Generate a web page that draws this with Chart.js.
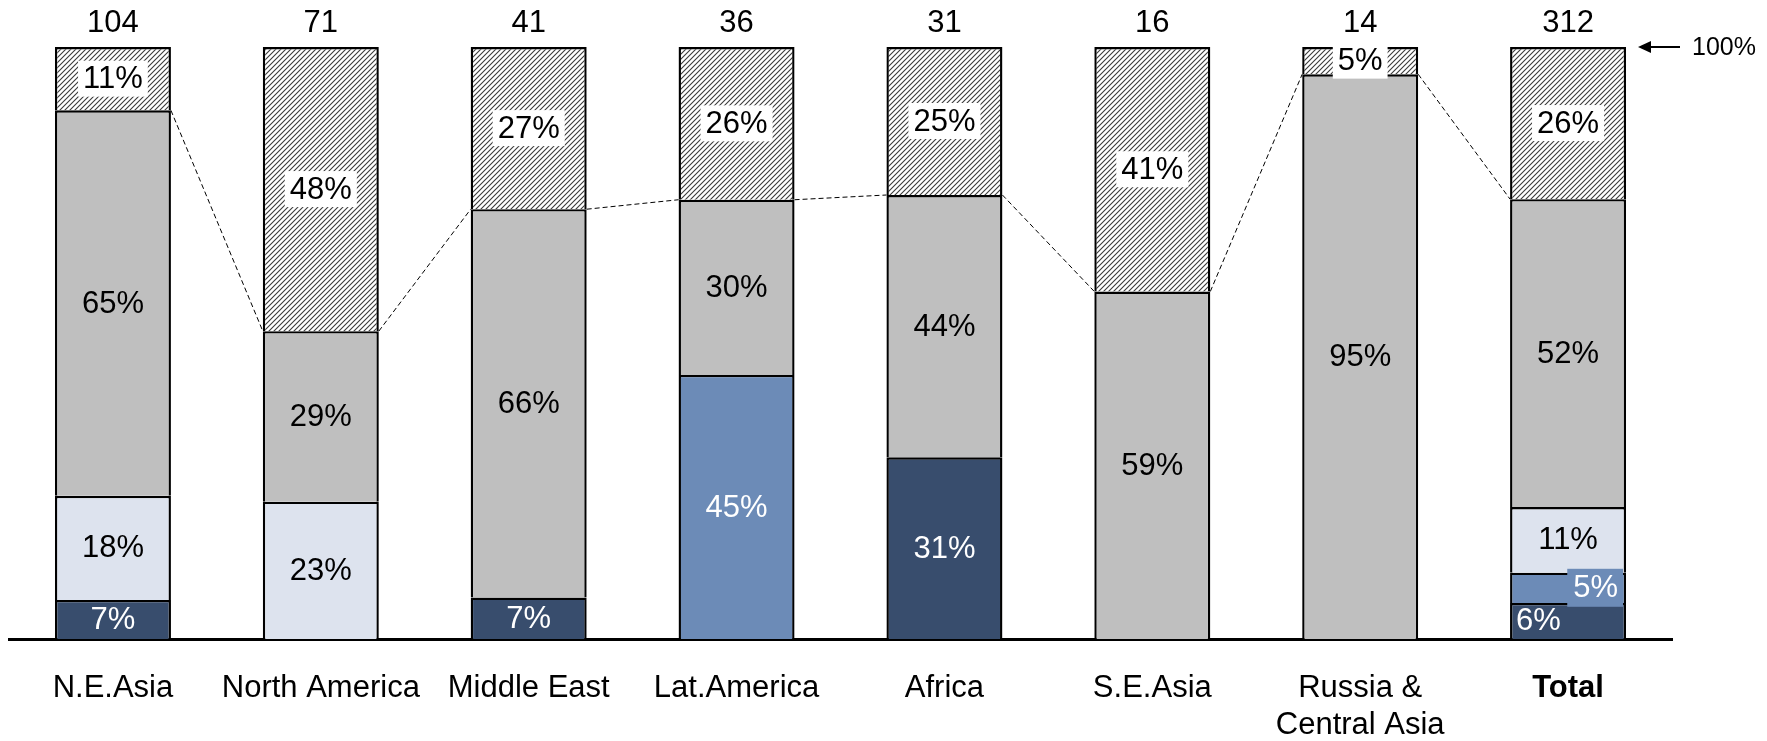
<!DOCTYPE html>
<html>
<head>
<meta charset="utf-8">
<script src="https://cdn.jsdelivr.net/npm/chart.js@4.4.1/dist/chart.umd.min.js"></script>
<style>
  body { margin: 0; background: #fff; }
  #wrap { width: 1767px; height: 741px; position: relative; }
</style>
</head>
<body>
<div id="wrap"><canvas id="regionChart"></canvas></div>
<script>
// Regions and bar totals
const categories = ['N.E.Asia', 'North America', 'Middle East', 'Lat.America', 'Africa', 'S.E.Asia', ['Russia &', 'Central Asia'], 'Total'];
const totals = [104, 71, 41, 36, 31, 16, 14, 312];

// Shares (%) per segment, bottom to top
const share1 = [6.6, null, 7.0, null, 30.7, null, null, 6.1];
const share2 = [null, null, null, 44.6, null, null, null, 5.1];
const share3 = [17.6, 23.2, null, null, null, null, null, 11.1];
const share4 = [65.1, 28.8, 65.6, 29.6, 44.3, 58.7, 95.4, 52.0];
const share5 = [10.7, 48.0, 27.4, 25.8, 25.0, 41.3, 4.6, 25.7];

const FONT = '"Liberation Sans", Arial, sans-serif';

// Diagonal hatch pattern for the top segment
function makeHatch() {
    const c = document.createElement('canvas');
    c.width = 5; c.height = 5;
    const g = c.getContext('2d');
    g.fillStyle = '#fff';
    g.fillRect(0, 0, 5, 5);
    g.strokeStyle = '#3a3a3a';
    g.lineWidth = 1.1;
    g.beginPath();
    g.moveTo(-1, 6); g.lineTo(6, -1);
    g.moveTo(-1, 1); g.lineTo(1, -1);
    g.moveTo(4, 6); g.lineTo(6, 4);
    g.stroke();
    return document.getElementById('regionChart').getContext('2d').createPattern(c, 'repeat');
}

// Dashed lines between gray tops
const connectorPlugin = {
    id: 'connectors',
    afterDatasetsDraw(chart) {
        const bars = chart.getDatasetMeta(3).data;
        const ctx = chart.ctx;
        ctx.save();
        ctx.strokeStyle = '#000';
        ctx.lineWidth = 1;
        ctx.setLineDash([5, 3]);
        for (let i = 0; i < bars.length - 1; i++) {
            const a = bars[i], b = bars[i + 1];
            ctx.beginPath();
            ctx.moveTo(a.x + a.width / 2, a.y);
            ctx.lineTo(b.x - b.width / 2, b.y);
            ctx.stroke();
        }
        ctx.restore();
    }
};

// Segment labels, totals and the 100% marker
const labelPlugin = {
    id: 'segLabels',
    afterDraw(chart) {
        const ctx = chart.ctx;
        ctx.save();
        ctx.font = '31px ' + FONT;
        ctx.textBaseline = 'middle';
        const textColors = ['#fff', '#fff', '#000', '#000', '#000'];

        chart.data.datasets.forEach((ds, di) => {
            const meta = chart.getDatasetMeta(di);
            meta.data.forEach((bar, j) => {
                const v = ds.data[j];
                if (v == null || v <= 0) return;
                const txt = Math.round(v) + '%';
                const w = ctx.measureText(txt).width;
                const cy = (bar.y + bar.base) / 2;
                let cx = bar.x;
                ctx.textAlign = 'center';
                const isTotal = j === categories.length - 1;
                if (isTotal && di === 1) {
                    // right-aligned with a blue box
                    const right = bar.x + bar.width / 2 - 3;
                    ctx.fillStyle = ds.backgroundColor;
                    ctx.fillRect(right - w - 11, cy - 19, w + 11, 38);
                    cx = right - 5 - w / 2;
                } else if (isTotal && di === 0) {
                    cx = bar.x - bar.width / 2 + 6 + w / 2;
                } else if (di === 4) {
                    ctx.fillStyle = '#fff';
                    ctx.fillRect(cx - w / 2 - 5, cy - 18, w + 10, 36);
                }
                ctx.fillStyle = textColors[di];
                ctx.fillText(txt, cx, cy + 1);
            });
        });

        // totals above bars
        const top = chart.getDatasetMeta(4).data;
        ctx.fillStyle = '#000';
        ctx.textAlign = 'center';
        top.forEach((bar, j) => {
            ctx.fillText(String(totals[j]), bar.x, 23);
        });

        // 100% arrow
        const y100 = chart.scales.y.getPixelForValue(100);
        const ax = chart.chartArea.right - 34;
        ctx.strokeStyle = '#000';
        ctx.lineWidth = 2;
        ctx.beginPath();
        ctx.moveTo(ax + 10, y100);
        ctx.lineTo(ax + 42, y100);
        ctx.stroke();
        ctx.beginPath();
        ctx.moveTo(ax, y100);
        ctx.lineTo(ax + 13, y100 - 6);
        ctx.lineTo(ax + 13, y100 + 6);
        ctx.closePath();
        ctx.fill();
        ctx.font = '25px ' + FONT;
        ctx.textAlign = 'left';
        ctx.fillText('100%', ax + 54, y100 + 1);
        ctx.restore();
    }
};

const hatch = makeHatch();
const segColors = ['#384D6D', '#6C8BB7', '#DDE3EE', '#BFBFBF', hatch];
const shares = [share1, share2, share3, share4, share5];

new Chart(document.getElementById('regionChart'), {
    type: 'bar',
    data: {
        labels: categories,
        datasets: shares.map((s, i) => ({
            label: 'share' + (i + 1),
            data: s,
            backgroundColor: segColors[i],
            borderColor: '#000',
            borderWidth: 2.4,
            barPercentage: 0.558,
            categoryPercentage: 1.0,
        })),
    },
    options: {
        responsive: true,
        maintainAspectRatio: false,
        animation: false,
        layout: { padding: { left: 9, right: 95, top: 47, bottom: 0 } },
        plugins: { legend: { display: false }, tooltip: { enabled: false } },
        scales: {
            x: {
                stacked: true,
                grid: { display: false, drawTicks: false },
                border: { display: true, color: '#000', width: 3 },
                ticks: {
                    color: '#000',
                    padding: 31,
                    maxRotation: 0,
                    autoSkip: false,
                    font: (c) => ({ family: FONT, size: 31, weight: c.index === 7 ? 'bold' : 'normal', lineHeight: 1.2 }),
                },
                afterFit: (s) => { s.height = 102; },
            },
            y: {
                stacked: true,
                display: false,
                min: 0,
                max: 100,
            },
        },
    },
    plugins: [connectorPlugin, labelPlugin],
});
</script>
</body>
</html>
